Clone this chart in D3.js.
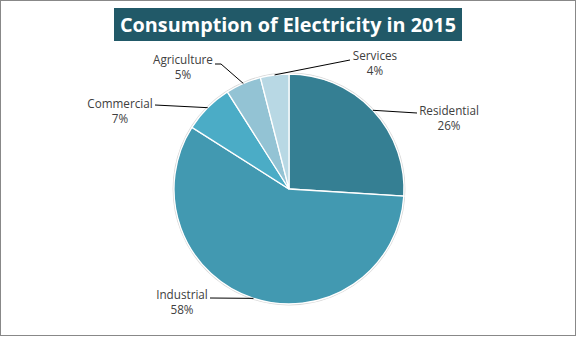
<!DOCTYPE html>
<html><head><meta charset="utf-8">
<script src="https://cdn.jsdelivr.net/npm/d3@7"></script>
<style>body{margin:0;background:#fff}svg{display:block}</style>
</head><body>
<script>
const categories = ["Residential","Industrial","Commercial","Agriculture","Services"];
const values = [26, 58, 7, 5, 4];
const colors = ["#357f93","#4299b1","#4bacc6","#93c3d4","#b8d8e4"];
const title = "Consumption of Electricity in 2015";
// label layout (anchor text centre x, first baseline y, leader end point)
const labelLayout = [
  {cx:449, y:115, end:[417,113], elbow:null},
  {cx:182, y:299, end:[210,298], elbow:null},
  {cx:120, y:108, end:[155,105], elbow:null},
  {cx:183, y:64,  end:[215,64], elbow:[221,64]},
  {cx:375, y:60,  end:[350,60], elbow:null}
];

const W=577,H=337, cx=289, cy=189, R=115;
const svg=d3.select("body").append("svg").attr("width",W).attr("height",H);
svg.append("rect").attr("x",0.5).attr("y",0.5).attr("width",575).attr("height",335)
  .attr("fill","#fff").attr("stroke","#888").attr("stroke-width",1);

const data = categories.map((c,i)=>({name:c,value:values[i],color:colors[i]}));
const pie=d3.pie().value(d=>d.value).sort(null);
const arcs=pie(data);
const arc=d3.arc().innerRadius(0).outerRadius(R);
const g=svg.append("g").attr("transform",`translate(${cx},${cy})`);
g.append("circle").attr("r",R+0.8).attr("fill","none").attr("stroke","#d9d9d9").attr("stroke-width",1.2);
g.selectAll("path").data(arcs).join("path").attr("d",arc)
  .attr("fill",d=>d.data.color).attr("stroke","#fff").attr("stroke-width",1.3);

// leader lines
arcs.forEach((a,i)=>{
  const L=labelLayout[i];
  const m=(a.startAngle+a.endAngle)/2;
  const p=[cx+R*Math.sin(m), cy-R*Math.cos(m)];
  const pts=[p];
  if(L.elbow) pts.push(L.elbow);
  pts.push(L.end);
  svg.append("path").attr("d",d3.line()(pts)).attr("fill","none").attr("stroke","#000").attr("stroke-width",1);
  const t=svg.append("text").attr("text-anchor","middle").attr("font-family","'Open Sans',sans-serif")
    .attr("font-size",11.7).attr("fill","#404040");
  t.append("tspan").attr("x",L.cx).attr("y",L.y).text(a.data.name);
  t.append("tspan").attr("x",L.cx).attr("y",L.y+15).text(Math.round(a.data.value)+"%");
});

// title
svg.append("rect").attr("x",114).attr("y",8).attr("width",348).attr("height",33).attr("fill","#215968");
svg.append("text").attr("x",288).attr("y",32).attr("text-anchor","middle")
  .attr("font-family","'Open Sans',sans-serif").attr("font-weight","bold").attr("font-size",19.5)
  .attr("fill","#fff").attr("textLength",336).attr("lengthAdjust","spacingAndGlyphs").text(title);
</script>
</body></html>
